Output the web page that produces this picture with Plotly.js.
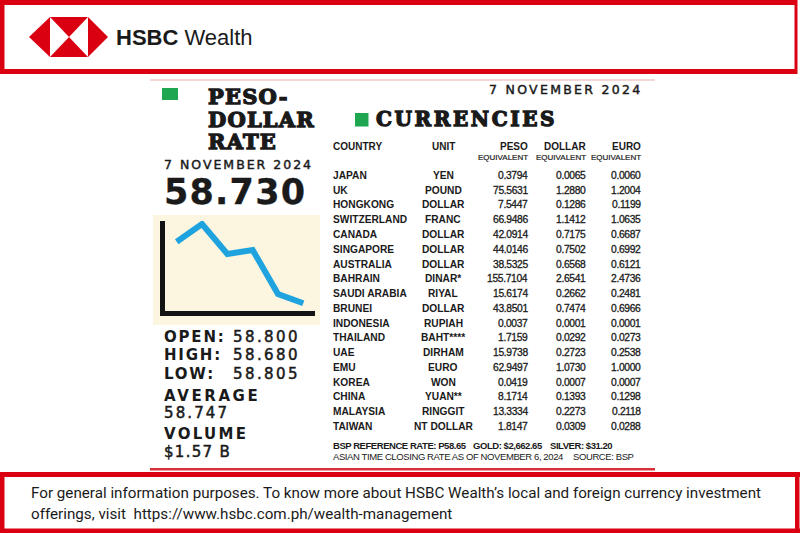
<!DOCTYPE html>
<html><head><meta charset="utf-8">
<script src="https://cdn.plot.ly/plotly-3.0.1.min.js"></script>
<style>html,body{margin:0;padding:0;background:#fff;}#chart{width:800px;height:533px;}</style>
</head><body><div id="chart"></div>
<script>
// ---------------- DATA ----------------
const brandName = 'HSBC';
const brandSuffix = 'Wealth';
const rateTitle = ['PESO-', 'DOLLAR', 'RATE'];
const rateDate = '7 NOVEMBER 2024';
const closingRate = 58.730;
const trendPoints = ['t1', 't2', 't3', 't4', 't5', 't6'];
const trendValues = [6.93, 8.7, 5.7, 6.1, 1.7, 0.77];
const statLabels = ['OPEN:', 'HIGH:', 'LOW:'];
const statValues = [58.800, 58.680, 58.805];
const averageLabel = 'AVERAGE';
const averageRate = 58.747;
const volumeLabel = 'VOLUME';
const volumeText = '$1.57 B';
const tableTitle = 'CURRENCIES';
const columnHeaders = ['COUNTRY', 'UNIT', 'PESO', 'DOLLAR', 'EURO'];
const subHeader = 'EQUIVALENT';
const countries = ['JAPAN','UK','HONGKONG','SWITZERLAND','CANADA','SINGAPORE','AUSTRALIA','BAHRAIN','SAUDI ARABIA','BRUNEI','INDONESIA','THAILAND','UAE','EMU','KOREA','CHINA','MALAYSIA','TAIWAN'];
const units = ['YEN','POUND','DOLLAR','FRANC','DOLLAR','DOLLAR','DOLLAR','DINAR*','RIYAL','DOLLAR','RUPIAH','BAHT****','DIRHAM','EURO','WON','YUAN**','RINGGIT','NT DOLLAR'];
const pesoEquivalent = [0.3794,75.5631,7.5447,66.9486,42.0914,44.0146,38.5325,155.7104,15.6174,43.8501,0.0037,1.7159,15.9738,62.9497,0.0419,8.1714,13.3334,1.8147];
const dollarEquivalent = [0.0065,1.2880,0.1286,1.1412,0.7175,0.7502,0.6568,2.6541,0.2662,0.7474,0.0001,0.0292,0.2723,1.0730,0.0007,0.1393,0.2273,0.0309];
const euroEquivalent = [0.0060,1.2004,0.1199,1.0635,0.6687,0.6992,0.6121,2.4736,0.2481,0.6966,0.0001,0.0273,0.2538,1.0000,0.0007,0.1298,0.2118,0.0288];
const bspNotes = ['BSP REFERENCE RATE: P58.65', 'GOLD: $2,662.65', 'SILVER: $31.20'];
const sourceNotes = ['ASIAN TIME CLOSING RATE AS OF NOVEMBER 6, 2024', 'SOURCE: BSP'];
const footerLines = ['For general information purposes. To know more about HSBC Wealth\u2019s local and foreign currency investment',
                     'offerings, visit  https://www.hsbc.com.ph/wealth-management'];

// ---------------- LAYOUT HELPERS ----------------
const W = 800, H = 533;
const RED = '#db0011', GREEN = '#1ea650', INK = '#1a1a1a', BLUE = '#1fa3df', CREAM = '#fcf6e0';
const px = x => x / W;
const py = y => 1 - y / H;
const annotations = [];
function A(text, x, y, size, family, xanchor, extra) {
  annotations.push(Object.assign({
    text: text, x: px(x), y: py(y), xref: 'paper', yref: 'paper',
    xanchor: xanchor || 'left', yanchor: 'middle', showarrow: false, align: xanchor || 'left',
    font: {size: size, family: family, color: INK}, borderpad: 0
  }, extra || {}));
}
const sp = (ls, t, stroke, fs) => `<span style="${fs ? 'font-size:' + fs + 'px;' : ''}letter-spacing:${ls}px${stroke ? ';stroke:' + INK + ';stroke-width:' + stroke + 'px' : ''}">${t}</span>`;
const shapes = [];
function rect(x0, y0, x1, y1, color) {
  shapes.push({type: 'rect', xref: 'paper', yref: 'paper', x0: px(x0), x1: px(x1), y0: py(y1), y1: py(y0),
    fillcolor: color, line: {width: 0}, layer: 'below'});
}
function poly(pts, color) {
  const d = pts.map((p, i) => (i ? 'L' : 'M') + px(p[0]).toFixed(5) + ',' + py(p[1]).toFixed(5)).join(' ') + ' Z';
  shapes.push({type: 'path', xref: 'paper', yref: 'paper', path: d, fillcolor: color, line: {width: 0}, layer: 'above'});
}

const SLAB = 'DejaVu Serif, serif';
const GEO = 'DejaVu Sans, sans-serif';
const TAB = 'Liberation Sans, Arial, sans-serif';

// header frame
rect(0, 0, 797, 5, RED); rect(0, 0, 4.5, 74, RED); rect(0, 69, 797, 74, RED); rect(794.5, 0, 797.5, 74, RED);
// footer frame
rect(0, 472, 800, 477, RED); rect(0, 472, 4.5, 533, RED); rect(0, 528.5, 800, 533, RED); rect(795, 472, 799.5, 533, RED);
// clipping edges
rect(150, 79, 655, 81, '#f4d6d6');
rect(150, 468, 655, 470.5, '#d9303a');
// logo hexagon
poly([[29,37],[50,17],[50,57]], RED);
poly([[108,37],[88,17],[88,57]], RED);
poly([[50,17],[88,17],[69,37]], RED);
poly([[50,57],[88,57],[69,37]], RED);
A(`<b>${brandName}</b> ${brandSuffix}`, 115, 37.5, 22, TAB);

// left panel
rect(162, 88, 178, 100, GREEN);
// three-line slab heading, one text block (line pitch = 1.3 x base size)
A(rateTitle.map(t => `<b>${sp(1.2, t, 1.3, 21)}</b>`).join('<br>'), 207, 119.1, 17.46, SLAB);
// date + closing rate, one text block
A(sp(2, rateDate, 0.45, 12.5) + '<br>' + `<b>${sp(1.2, closingRate.toFixed(3), 0.3, 35)}</b>`, 162.5, 184.1, 27.3, GEO);
rect(153, 215, 320, 325, CREAM);
const statY = [336.7, 355, 373.5];
statLabels.forEach((t, i) => {
  A(`<b>${sp(1.8, t)}</b>`, 162.5, statY[i], 15, GEO);
  A(sp(2.4, statValues[i].toFixed(3), 0.5), 231.5, statY[i], 15, GEO);
});
A(`<b>${sp(2.6, averageLabel)}</b>`, 162.5, 395.5, 15, GEO);
A(sp(2.1, averageRate.toFixed(3), 0.5), 162.5, 413, 15, GEO);
A(`<b>${sp(2.3, volumeLabel)}</b>`, 162.5, 433.5, 15, GEO);
A(sp(1.3, volumeText, 0.5), 162.5, 452.3, 15, GEO);

// right panel
A(sp(2.3, rateDate, 0.45), 643.5, 89, 12.5, GEO, 'right');
rect(355, 113, 368.5, 126.5, GREEN);
A(`<b>${sp(2.6, tableTitle, 1.3)}</b>`, 375, 119, 20, SLAB);
const colX = [332, 443, 528.5, 586.5, 642];
const colAnchor = ['left', 'center', 'right', 'right', 'right'];
columnHeaders.forEach((h, i) => A(`<b>${h}</b>`, colX[i], 146.5, 10, TAB, colAnchor[i]));
[2, 3, 4].forEach(i => A(sp(0, subHeader, 0.2), colX[i], 157.5, 8, TAB, 'right'));
const rowY0 = 175.5, rowStep = 14.75;
const num = v => sp(-0.35, v.toFixed(4), 0.3);
countries.forEach((c, r) => {
  const y = rowY0 + r * rowStep;
  A(`<b>${c}</b>`, colX[0], y, 10.2, TAB, 'left');
  A(`<b>${units[r]}</b>`, colX[1], y, 10.2, TAB, 'center');
  A(num(pesoEquivalent[r]), colX[2], y, 10.3, TAB, 'right');
  A(num(dollarEquivalent[r]), colX[3], y, 10.3, TAB, 'right');
  A(num(euroEquivalent[r]), colX[4], y, 10.3, TAB, 'right');
});
const bspX = [332, 471.7, 548.7];
bspNotes.forEach((t, i) => A(`<b>${sp(-0.45, t)}</b>`, bspX[i], 445.3, 9.5, TAB));
const srcX = [332, 571.7];
sourceNotes.forEach((t, i) => A(sp(-0.4, t), srcX[i], 456.7, 9.5, TAB));

// footer
footerLines.forEach((t, i) => A(t, 30, 493 + i * 21, 15.2, 'Roboto, sans-serif'));

// ---------------- MINI TREND CHART ----------------
const trace = {
  type: 'scatter', mode: 'lines', x: trendPoints, y: trendValues,
  line: {color: BLUE, width: 6, shape: 'linear'}, hoverinfo: 'skip'
};
const layout = {
  width: W, height: H, margin: {l: 0, r: 0, t: 0, b: 0},
  paper_bgcolor: '#ffffff', plot_bgcolor: 'rgba(0,0,0,0)', showlegend: false,
  xaxis: {domain: [px(165), px(315)], range: [-0.462, 5.462], type: 'category',
          showline: true, linewidth: 5, linecolor: '#141414', showgrid: false, zeroline: false,
          showticklabels: false, ticks: '', fixedrange: true},
  yaxis: {domain: [py(311), py(221)], range: [0, 9],
          showline: true, linewidth: 5, linecolor: '#141414', showgrid: false, zeroline: false,
          showticklabels: false, ticks: '', fixedrange: true},
  shapes: shapes, annotations: annotations
};
Plotly.newPlot('chart', [trace], layout, {staticPlot: true, displayModeBar: false});
</script></body></html>
